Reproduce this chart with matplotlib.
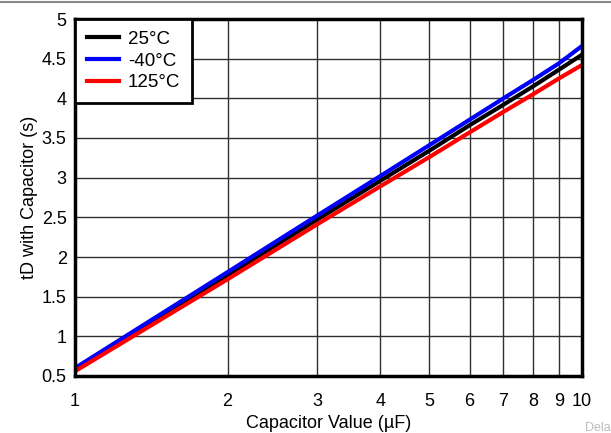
import matplotlib
matplotlib.use("Agg")
import matplotlib.pyplot as plt
from matplotlib.lines import Line2D
import numpy as np

plt.rcParams['font.family'] = ['Liberation Sans', 'DejaVu Sans']

cap = [1, 2, 3, 4, 5, 6, 7, 8, 9, 10]
t_25 = [0.58, 1.77, 2.47, 2.96, 3.34, 3.66, 3.92, 4.15, 4.36, 4.55]
t_m40 = [0.60, 1.81, 2.52, 3.02, 3.41, 3.73, 4.00, 4.23, 4.44, 4.66]
t_125 = [0.56, 1.72, 2.41, 2.89, 3.26, 3.57, 3.83, 4.05, 4.25, 4.42]
xticks = [1, 2, 3, 4, 5, 6, 7, 8, 9, 10]
yticks = [0.5, 1, 1.5, 2, 2.5, 3, 3.5, 4, 4.5, 5]

fig = plt.figure(figsize=(6.11, 4.33), dpi=100)
ax = fig.add_axes([75/611, 1-376/433, (582-75)/611, (376-19)/433])

ax.plot(cap, t_25, color='black', lw=3, label='25°C', zorder=3)
ax.plot(cap, t_m40, color='#0000ff', lw=3, label='-40°C', zorder=3)
ax.plot(cap, t_125, color='#ff0000', lw=3, label='125°C', zorder=3)

ax.set_xscale('log')
ax.set_xlim(1, 10)
ax.set_ylim(0.5, 5)
ax.set_xticks(xticks)
ax.set_xticklabels([str(v) for v in xticks])
ax.xaxis.set_minor_locator(matplotlib.ticker.NullLocator())
ax.set_yticks(yticks)
ax.set_yticklabels([('%g' % v) for v in yticks])
ax.tick_params(axis='x', length=0, labelsize=13, pad=12)
ax.tick_params(axis='y', length=0, labelsize=13, pad=6)
ax.grid(True, color='#303030', lw=1)
for s in ax.spines.values():
    s.set_linewidth(2.5)
    s.set_zorder(4)

ax.set_xlabel('Capacitor Value (µF)', fontsize=13, labelpad=4)
ax.set_ylabel('tD with Capacitor (s)', fontsize=13, labelpad=3)

leg = ax.legend(loc='upper left', fontsize=13.5, frameon=True, fancybox=False,
                framealpha=1, edgecolor='black', borderaxespad=0,
                handlelength=1.75, handletextpad=0.45, labelspacing=0.25,
                borderpad=0.62)
leg.get_frame().set_linewidth(2)

fig.add_artist(Line2D([0, 1], [1-1.5/433, 1-1.5/433], color='#888888', lw=1.5,
                      transform=fig.transFigure))
fig.text(585/611, 1-428/433, 'Dela', color='#bbbbbb', fontsize=9, ha='left', va='center')

fig.savefig('out.png', dpi=100)
